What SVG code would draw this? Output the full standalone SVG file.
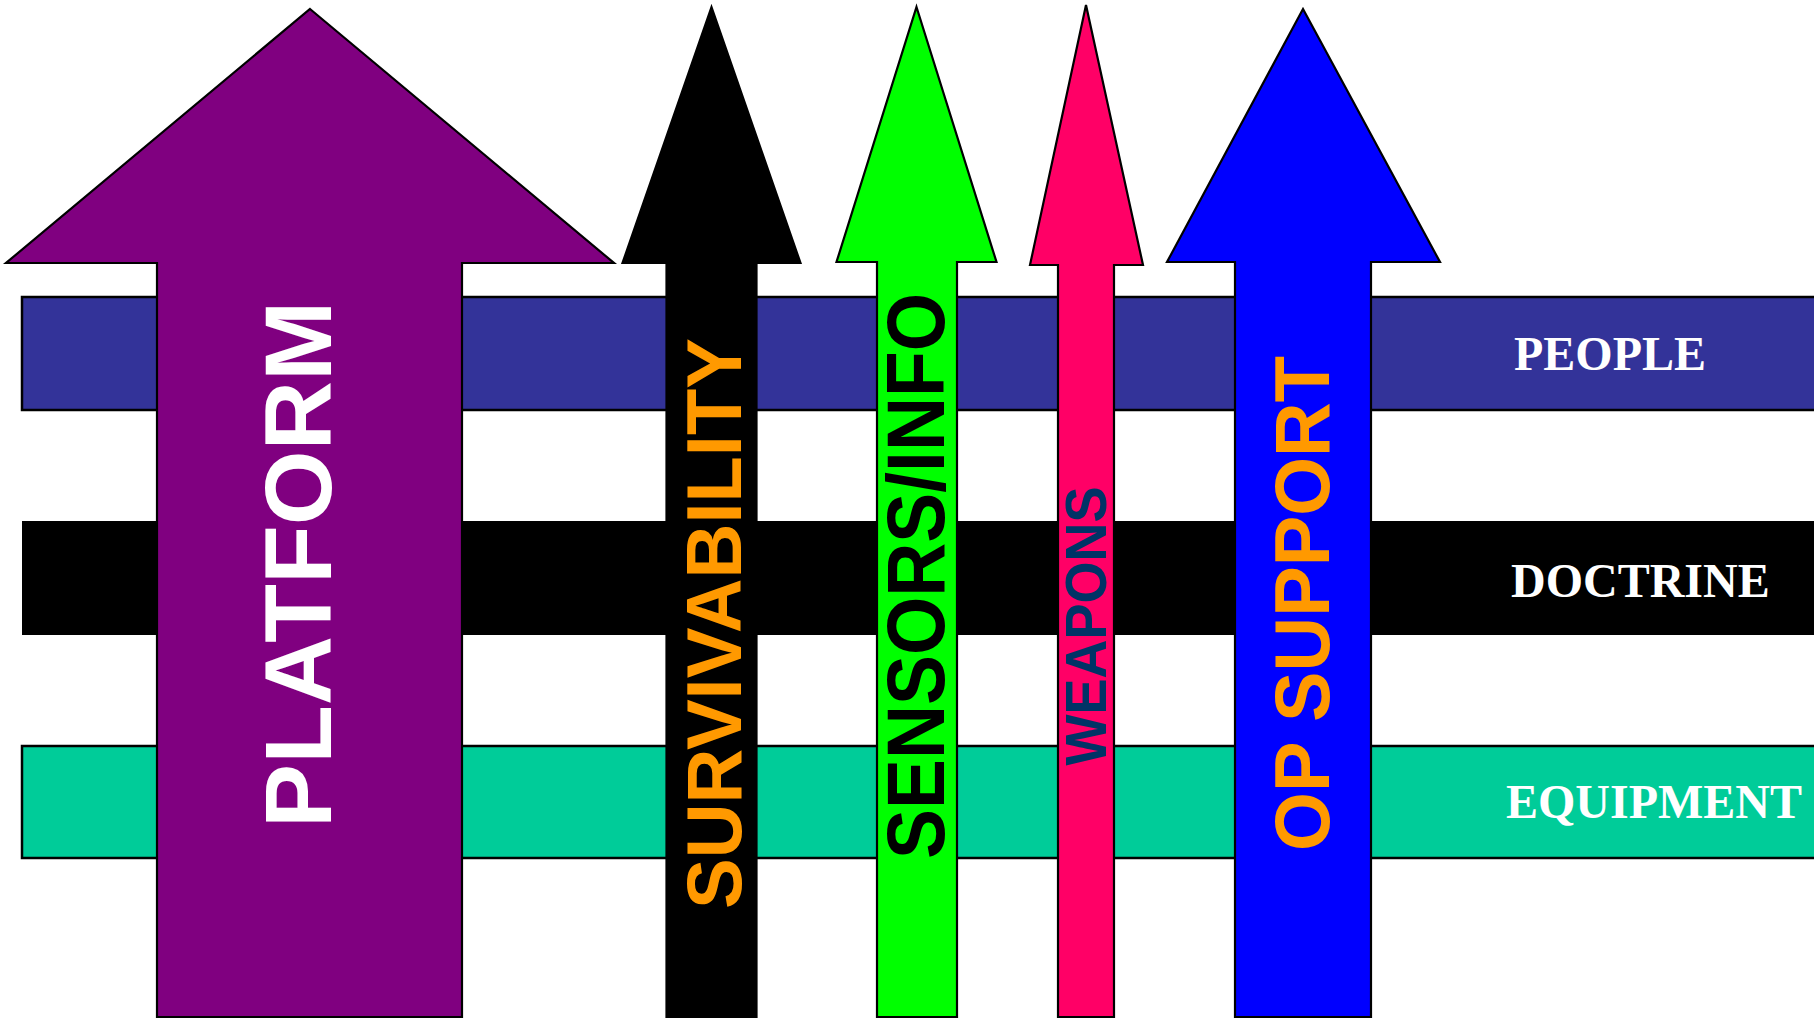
<svg xmlns="http://www.w3.org/2000/svg" width="1814" height="1018" viewBox="0 0 1814 1018">
<style>
.arrow{stroke:#000;stroke-width:2.2;stroke-linejoin:miter}
.band{stroke:#000;stroke-width:2.5}
.lbl{font-family:"Liberation Sans",Arial,sans-serif;font-weight:bold;text-anchor:middle}
.blbl{font-family:"Liberation Serif","Times New Roman",serif;font-weight:bold;font-size:48px;fill:#fff}
</style>
<rect width="1814" height="1018" fill="#fff"/>
<g id="bands">
<g id="people"><rect class="band" x="22" y="297" width="1800" height="113" fill="#333399"/></g>
<g id="doctrine"><rect x="22" y="521" width="1800" height="114" fill="#000"/></g>
<g id="equipment"><rect class="band" x="22" y="746" width="1800" height="112" fill="#00CC99"/></g>
</g>
<g id="connectors"/>
<g id="platform">
<polygon class="arrow" fill="#800080" points="310,9 614,263 462,263 462,1017 157,1017 157,263 6,263"/>
<text class="lbl" font-size="95" fill="#fff" textLength="527" lengthAdjust="spacingAndGlyphs" transform="translate(331,564.5) rotate(-90)">PLATFORM</text>
</g>
<g id="survivability">
<polygon class="arrow" fill="#000" points="711.5,7 800.5,263 756.5,263 756.5,1017 666.5,1017 666.5,263 622.5,263"/>
<text class="lbl" font-size="77" fill="#FF9900" textLength="571" lengthAdjust="spacingAndGlyphs" transform="translate(741,623.5) rotate(-90)">SURVIVABILITY</text>
</g>
<g id="sensors">
<polygon class="arrow" fill="#00FF00" points="916.5,7 996.5,262 957,262 957,1017 877,1017 877,262 836.5,262"/>
<text class="lbl" font-size="81" fill="#000" textLength="566" lengthAdjust="spacingAndGlyphs" transform="translate(944,576) rotate(-90)">SENSORS/INFO</text>
</g>
<g id="weapons">
<polygon class="arrow" fill="#FF0066" points="1086,5 1143,265 1114,265 1114,1017 1058,1017 1058,265 1030,265"/>
<text class="lbl" font-size="57" fill="#003366" textLength="279" lengthAdjust="spacingAndGlyphs" transform="translate(1106,626) rotate(-90)">WEAPONS</text>
</g>
<g id="opsupport">
<polygon class="arrow" fill="#0000FF" points="1303,9 1440,262 1371,262 1371,1017 1235,1017 1235,262 1167,262"/>
<text class="lbl" font-size="78" fill="#FF9900" textLength="495" lengthAdjust="spacingAndGlyphs" transform="translate(1329,603.5) rotate(-90)">OP SUPPORT</text>
</g>
<g id="band-labels">
<text class="blbl" x="1514" y="370">PEOPLE</text>
<text class="blbl" x="1511" y="597">DOCTRINE</text>
<text class="blbl" x="1506" y="818">EQUIPMENT</text>
</g>
</svg>
